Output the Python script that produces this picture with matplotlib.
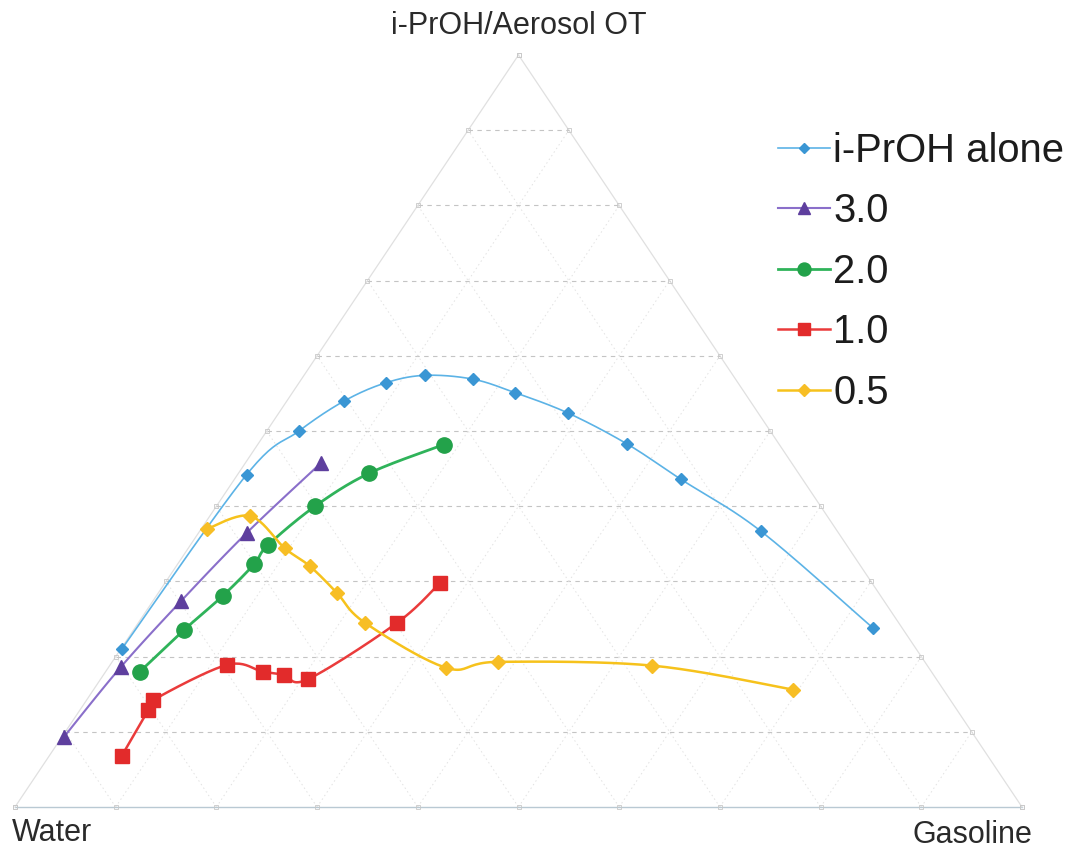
import numpy as np
import matplotlib
matplotlib.use("Agg")
import matplotlib.pyplot as plt
from matplotlib.lines import Line2D

plt.rcParams["font.family"] = ["Liberation Sans", "DejaVu Sans"]

# Phase-boundary compositions (percent): water, gasoline, i-PrOH/Aerosol OT
alone_water = [78.9, 54.9, 46.8, 40.3, 35.0, 30.6, 26.1, 22.8, 18.9, 15.1, 12.1, 7.6, 2.9]
alone_gasoline = [0.1, 0.9, 3.2, 5.7, 8.6, 12.0, 17.0, 22.1, 28.7, 36.6, 44.3, 55.7, 73.3]
alone_surf = [21.0, 44.2, 50.0, 54.0, 56.4, 57.4, 56.9, 55.1, 52.4, 48.3, 43.6, 36.7, 23.8]

r30_water = [90.5, 80.2, 69.8, 58.7, 46.8]
r30_gasoline = [0.2, 1.2, 2.8, 4.8, 7.5]
r30_surf = [9.3, 18.6, 27.4, 36.5, 45.7]

r20_water = [78.6, 71.5, 65.3, 60.1, 57.5, 50.2, 42.6, 33.3]
r20_gasoline = [3.4, 5.0, 6.6, 7.6, 7.7, 9.8, 13.0, 18.5]
r20_surf = [18.0, 23.5, 28.1, 32.3, 34.8, 40.0, 44.4, 48.2]

r10_water = [86.0, 80.3, 79.2, 69.5, 66.4, 64.5, 62.4, 49.8, 42.9]
r10_gasoline = [7.2, 6.8, 6.6, 11.6, 15.6, 17.9, 20.6, 25.7, 27.3]
r10_surf = [6.8, 12.9, 14.2, 18.9, 18.0, 17.6, 17.0, 24.5, 29.8]

r05_water = [62.4, 57.3, 56.0, 54.7, 53.8, 53.0, 47.9, 42.4, 27.3, 14.9]
r05_gasoline = [0.6, 4.0, 9.6, 13.3, 17.7, 22.5, 33.6, 38.3, 53.9, 69.5]
r05_surf = [37.0, 38.7, 34.4, 32.0, 28.5, 24.5, 18.5, 19.3, 18.8, 15.6]

series_labels = ["i-PrOH alone", "3.0", "2.0", "1.0", "0.5"]
corner_labels = ["Water", "Gasoline", "i-PrOH/Aerosol OT"]

W_PX, H_PX = 1007.0, 752.0


def to_xy(water, gasoline, surf):
    w = np.asarray(water, float)
    g = np.asarray(gasoline, float)
    s = np.asarray(surf, float)
    tot = w + g + s
    g, s = g / tot, s / tot
    return g + s / 2.0, s


def smooth_curve(x, y, n=24):
    """Catmull-Rom curve through the points, computed in pixel-proportional space."""
    P = np.column_stack([np.asarray(x) * W_PX, np.asarray(y) * H_PX])
    if len(P) < 3:
        return x, y
    out = []
    for i in range(len(P) - 1):
        p0 = P[i - 1] if i > 0 else P[i]
        p1, p2 = P[i], P[i + 1]
        p3 = P[i + 2] if i + 2 < len(P) else P[i + 1]
        t = np.linspace(0, 1, n)[:, None]
        seg = 0.5 * ((2 * p1) + (-p0 + p2) * t + (2 * p0 - 5 * p1 + 4 * p2 - p3) * t ** 2
                     + (-p0 + 3 * p1 - 3 * p2 + p3) * t ** 3)
        out.append(seg if i == 0 else seg[1:])
    out = np.vstack(out)
    return out[:, 0] / W_PX, out[:, 1] / H_PX


fig = plt.figure(figsize=(10.70, 8.55), dpi=100)
ax = fig.add_axes([15 / 1070, 48 / 855, 1007 / 1070, 752 / 855])
ax.set_xlim(0, 1)
ax.set_ylim(0, 1)
ax.axis("off")

# triangle outline
ax.plot([0, 1], [0, 0], color="#b9c9d3", lw=1.0, zorder=1, clip_on=False)
ax.plot([0, 0.5], [0, 1], color="#e0e0e0", lw=0.9, zorder=1, clip_on=False)
ax.plot([1, 0.5], [0, 1], color="#e0e0e0", lw=0.9, zorder=1, clip_on=False)

# grid at 10 % steps
levels = np.arange(1, 10) / 10.0
for f in levels:
    ax.plot([f / 2, 1 - f / 2], [f, f], color="#c4c4c4", lw=0.8,
            dashes=(4, 4), zorder=1)
    ax.plot([f, f + (1 - f) / 2], [0, 1 - f], color="#e2e2e2", lw=0.7,
            dashes=(1.5, 3), zorder=1)
    ax.plot([f, f / 2], [0, f], color="#e2e2e2", lw=0.7,
            dashes=(1.5, 3), zorder=1)

# small tick boxes along the edges
edge = np.arange(0, 11) / 10.0
for ex, ey in [(edge, np.zeros_like(edge)), (edge / 2, edge), (1 - edge / 2, edge)]:
    ax.plot(ex, ey, ls="none", marker="s", ms=3.5, mfc="none",
            mec="#c8c8c8", mew=0.6, zorder=2, clip_on=False)

styles = [
    dict(data=(alone_water, alone_gasoline, alone_surf), line="#5cb3e6", mfc="#3a96d4",
         marker="D", ms=6, lw=1.2),
    dict(data=(r30_water, r30_gasoline, r30_surf), line="#8a6fca", mfc="#5e3f9e",
         marker="^", ms=10, lw=1.5),
    dict(data=(r20_water, r20_gasoline, r20_surf), line="#2fb35a", mfc="#23a24a",
         marker="o", ms=11, lw=2.0),
    dict(data=(r10_water, r10_gasoline, r10_surf), line="#ea3b3b", mfc="#e22b2b",
         marker="s", ms=10, lw=1.8),
    dict(data=(r05_water, r05_gasoline, r05_surf), line="#f6c21c", mfc="#f7be25",
         marker="D", ms=7.5, lw=1.8),
]

handles = []
for st, lab in zip(styles, series_labels):
    x, y = to_xy(*st["data"])
    sx, sy = smooth_curve(x, y)
    ax.plot(sx, sy, color=st["line"], lw=st["lw"], zorder=3, clip_on=False)
    ax.plot(x, y, ls="none", marker=st["marker"], ms=st["ms"], mfc=st["mfc"],
            mec=st["mfc"], zorder=4, clip_on=False)
    handles.append(Line2D([], [], color=st["line"], lw=st["lw"], marker=st["marker"],
                          ms=st["ms"] * 0.85, mfc=st["mfc"], mec=st["mfc"]))

leg = fig.legend(handles, series_labels, loc="upper left",
                 bbox_to_anchor=(778 / 1070, 1 - 132 / 855), frameon=False,
                 fontsize=28.8, handlelength=1.3, handletextpad=0.08,
                 labelspacing=0.56, borderpad=0, borderaxespad=0)
for t in leg.get_texts():
    t.set_color("#1c1c1c")

fig.text(519 / 1070, 1 - 26 / 855, corner_labels[2], ha="center", va="center",
         fontsize=22, color="#2a2a2a")
fig.text(12 / 1070, 1 - 833 / 855, corner_labels[0], ha="left", va="center",
         fontsize=22, color="#2a2a2a")
fig.text(1032 / 1070, 1 - 835 / 855, corner_labels[1], ha="right", va="center",
         fontsize=22, color="#2a2a2a")

fig.savefig("out.png", dpi=100, facecolor="white")
